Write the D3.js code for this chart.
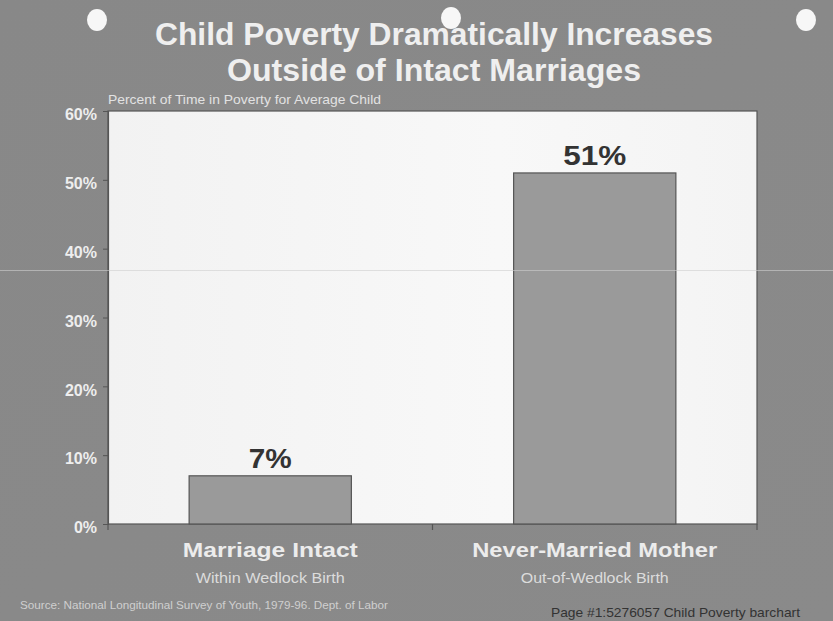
<!DOCTYPE html>
<html><head><meta charset="utf-8">
<script src="https://cdn.jsdelivr.net/npm/d3@7"></script>
<style>
html,body{margin:0;padding:0;background:#8a8a8a;}
svg{display:block;}
</style></head>
<body>
<svg id="c" width="833" height="621"></svg>
<script>
const titleLines = ["Child Poverty Dramatically Increases", "Outside of Intact Marriages"];
const yAxisTitle = "Percent of Time in Poverty for Average Child";
const categories = ["Marriage Intact", "Never-Married Mother"];
const subLabels = ["Within Wedlock Birth", "Out-of-Wedlock Birth"];
const values = [7, 51];
const yTicks = [0, 10, 20, 30, 40, 50, 60];
const sourceText = "Source: National Longitudinal Survey of Youth, 1979-96.  Dept. of Labor";
const footerText = "Page #1:5276057 Child Poverty barchart";

const svg = d3.select("#c");
const W = 833, H = 621;
const m = {left:108, right:757, top:111, bottom:524};
const FONT = "Liberation Sans, Arial, Helvetica, sans-serif";

const defs = svg.append("defs");
const bg = defs.append("linearGradient").attr("id","bg").attr("x1","0").attr("y1","0").attr("x2","1").attr("y2","1");
bg.append("stop").attr("offset","0").attr("stop-color","#888888");
bg.append("stop").attr("offset","1").attr("stop-color","#8a8a8a");
const pg = defs.append("linearGradient").attr("id","pg").attr("x1","0").attr("y1","0").attr("x2","1").attr("y2","0");
pg.append("stop").attr("offset","0").attr("stop-color","#f2f2f2");
pg.append("stop").attr("offset","0.6").attr("stop-color","#f8f8f8");
pg.append("stop").attr("offset","1").attr("stop-color","#f4f4f4");

svg.append("rect").attr("width",W).attr("height",H).attr("fill","url(#bg)");

const x = d3.scaleBand().domain(categories).range([m.left, m.right]).paddingInner(0).paddingOuter(0);
const y = d3.scaleLinear().domain([0, 60]).range([m.bottom, m.top]);

// plot area
svg.append("rect").attr("x",m.left).attr("y",m.top).attr("width",m.right-m.left).attr("height",m.bottom-m.top)
  .attr("fill","url(#pg)").attr("stroke","#555").attr("stroke-width",1.2);

// bars
const bw = x.bandwidth()*0.5;
svg.selectAll("rect.bar").data(values).join("rect").attr("class","bar")
  .attr("x",(d,i)=>x(categories[i])+x.bandwidth()/2-bw/2)
  .attr("y",d=>y(d)).attr("width",bw).attr("height",d=>y(0)-y(d))
  .attr("fill","#9a9a9a").attr("stroke","#555").attr("stroke-width",1.2);

// value labels
const valW = {7:43, 51:63};
svg.selectAll("text.val").data(values).join("text").attr("class","val")
  .attr("x",(d,i)=>x(categories[i])+x.bandwidth()/2)
  .attr("y",d=>y(d)-8).attr("text-anchor","middle")
  .attr("font-family",FONT).attr("font-weight","bold")
  .attr("font-size",27).attr("fill","#333")
  .attr("textLength",d=>valW[d]).attr("lengthAdjust","spacingAndGlyphs").text(d=>d+"%");

// y axis
const yAxis = d3.axisLeft(y).tickValues(yTicks).tickFormat(d=>d+"%").tickSize(5).tickPadding(6);
const ya = svg.append("g").attr("transform",`translate(${m.left},0)`).call(yAxis);
ya.select(".domain").attr("stroke","#555").attr("stroke-width",1.2);
ya.selectAll(".tick line").attr("stroke","#555");
ya.selectAll(".tick text").attr("font-family",FONT).attr("font-weight","bold")
  .attr("font-size",16).attr("fill","#eeeeee").attr("dy","0.55em");

// x axis ticks at band boundaries
const xb = [m.left, x(categories[1]), m.right];
svg.selectAll("line.xt").data(xb).join("line").attr("class","xt")
  .attr("x1",d=>d).attr("x2",d=>d).attr("y1",m.bottom).attr("y2",m.bottom+6)
  .attr("stroke","#555").attr("stroke-width",1.2);

// category labels
const catW = [175, 245];
svg.selectAll("text.cat").data(categories).join("text").attr("class","cat")
  .attr("x",d=>x(d)+x.bandwidth()/2).attr("y",557).attr("text-anchor","middle")
  .attr("font-family",FONT).attr("font-weight","bold")
  .attr("font-size",20).attr("fill","#ececec")
  .attr("textLength",(d,i)=>catW[i]).attr("lengthAdjust","spacingAndGlyphs").text(d=>d);
const subW = [149, 148];
svg.selectAll("text.sub").data(subLabels).join("text").attr("class","sub")
  .attr("x",(d,i)=>x(categories[i])+x.bandwidth()/2).attr("y",583).attr("text-anchor","middle")
  .attr("font-family",FONT)
  .attr("font-size",15).attr("fill","#dcdcdc")
  .attr("textLength",(d,i)=>subW[i]).attr("lengthAdjust","spacingAndGlyphs").text(d=>d);

// title
const titleW = [558, 414];
svg.selectAll("text.title").data(titleLines).join("text").attr("class","title")
  .attr("x",434).attr("y",(d,i)=>45+i*36).attr("text-anchor","middle")
  .attr("font-family",FONT).attr("font-weight","bold")
  .attr("font-size",32).attr("fill","#efefef")
  .attr("textLength",(d,i)=>titleW[i]).attr("lengthAdjust","spacingAndGlyphs").text(d=>d);

// axis title
svg.append("text").attr("x",108).attr("y",104)
  .attr("font-family",FONT)
  .attr("font-size",13.5).attr("fill","#e2e2e2")
  .attr("textLength",273).attr("lengthAdjust","spacingAndGlyphs").text(yAxisTitle);

// source & footer
svg.append("text").attr("x",20).attr("y",609)
  .attr("font-family",FONT)
  .attr("font-size",11).attr("fill","#cfcfcf")
  .attr("textLength",368).attr("lengthAdjust","spacingAndGlyphs").text(sourceText);
svg.append("text").attr("x",551).attr("y",617)
  .attr("font-family",FONT)
  .attr("font-size",13).attr("fill","#333")
  .attr("textLength",249).attr("lengthAdjust","spacingAndGlyphs").text(footerText);

// scan artifacts: hole punches and scan line
[[97,20],[451,18],[806,20]].forEach(p=>{
  svg.append("ellipse").attr("cx",p[0]).attr("cy",p[1]).attr("rx",10).attr("ry",11).attr("fill","#f7f7f7");
});
svg.append("line").attr("x1",0).attr("x2",W).attr("y1",270.5).attr("y2",270.5).attr("stroke","#cfcfcf").attr("stroke-opacity",0.6);
</script>
</body></html>
